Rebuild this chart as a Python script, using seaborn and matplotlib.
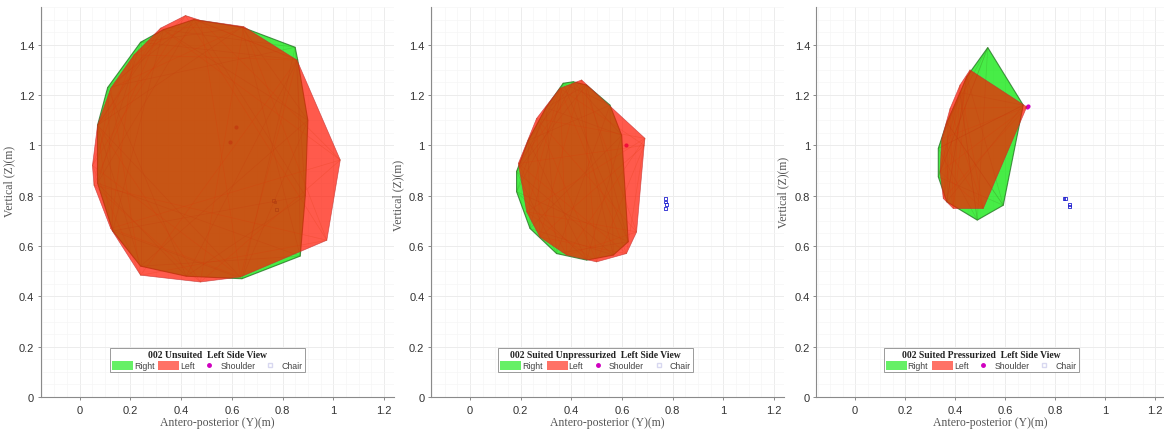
import numpy as np
import pandas as pd
import matplotlib
matplotlib.use("Agg")
import matplotlib.pyplot as plt
from matplotlib.patches import Patch
from matplotlib.lines import Line2D
from matplotlib.ticker import MultipleLocator
import seaborn as sns

# ---------------- data ----------------
titles = ["002 Unsuited  Left Side View",
          "002 Suited Unpressurized  Left Side View",
          "002 Suited Pressurized  Left Side View"]

# Panel 1 (Unsuited)
p1_left_y = [0.417, 0.476, 0.647, 0.857, 1.028, 0.975, 0.634, 0.476, 0.240, 0.122, 0.056, 0.050, 0.070, 0.122, 0.214, 0.319]
p1_left_z = [1.516, 1.497, 1.472, 1.339, 0.942, 0.623, 0.477, 0.457, 0.484, 0.670, 0.842, 0.920, 1.080, 1.227, 1.360, 1.466]
p1_right_y = [0.33, 0.45, 0.64, 0.85, 0.86, 0.90, 0.89, 0.87, 0.64, 0.42, 0.24, 0.13, 0.07, 0.07, 0.11, 0.24]
p1_right_z = [1.46, 1.50, 1.47, 1.39, 1.34, 1.10, 0.80, 0.56, 0.47, 0.48, 0.52, 0.66, 0.85, 1.08, 1.23, 1.41]
p1_shoulder_y = [0.594, 0.617]
p1_shoulder_z = [1.014, 1.074]
p1_chair_y = [0.765, 0.770, 0.776]
p1_chair_z = [0.782, 0.775, 0.746]

# Panel 2 (Suited Unpressurized)
p2_left_y = [0.441, 0.691, 0.688, 0.658, 0.618, 0.500, 0.382, 0.276, 0.224, 0.191, 0.263, 0.355]
p2_left_z = [1.260, 1.028, 1.000, 0.656, 0.570, 0.537, 0.564, 0.636, 0.736, 0.928, 1.107, 1.227]
p2_right_y = [0.368, 0.408, 0.460, 0.553, 0.599, 0.625, 0.566, 0.461, 0.342, 0.237, 0.184, 0.184, 0.230, 0.300]
p2_right_z = [1.247, 1.253, 1.240, 1.160, 1.040, 0.617, 0.564, 0.544, 0.570, 0.670, 0.816, 0.896, 1.020, 1.150]
p2_shoulder_y = [0.618]
p2_shoulder_z = [1.001]
p2_chair_y = [0.772, 0.772, 0.775, 0.772]
p2_chair_z = [0.790, 0.775, 0.765, 0.750]

# Panel 3 (Suited Pressurized)
p3_left_y = [0.460, 0.687, 0.513, 0.393, 0.353, 0.340, 0.347, 0.380, 0.420]
p3_left_z = [1.300, 1.153, 0.749, 0.749, 0.789, 0.895, 1.027, 1.146, 1.240]
p3_right_y = [0.531, 0.673, 0.593, 0.489, 0.367, 0.333, 0.333, 0.367, 0.420, 0.447]
p3_right_z = [1.389, 1.160, 0.762, 0.703, 0.776, 0.875, 0.988, 1.091, 1.210, 1.273]
p3_shoulder_y = [0.687, 0.690]
p3_shoulder_z = [1.153, 1.155]
p3_chair_y = [0.836, 0.843, 0.857, 0.857]
p3_chair_z = [0.789, 0.789, 0.765, 0.756]

panels = [
    (p1_left_y, p1_left_z, p1_right_y, p1_right_z, p1_shoulder_y, p1_shoulder_z, p1_chair_y, p1_chair_z),
    (p2_left_y, p2_left_z, p2_right_y, p2_right_z, p2_shoulder_y, p2_shoulder_z, p2_chair_y, p2_chair_z),
    (p3_left_y, p3_left_z, p3_right_y, p3_right_z, p3_shoulder_y, p3_shoulder_z, p3_chair_y, p3_chair_z),
]

# ---------------- style ----------------
sns.set_theme(style="whitegrid")
plt.rcParams["font.family"] = ["Liberation Sans", "DejaVu Sans"]

GREEN = "#00e600"
RED = "#ff1400"

fig = plt.figure(figsize=(11.64, 4.31), dpi=100)
fig.patch.set_facecolor("white")

# axes boxes [left, bottom, width, height] in figure fraction
boxes = [
    (40.5 / 1164, 33 / 431, (394 - 40.5) / 1164, 390 / 431),
    (430.7 / 1164, 33 / 431, (784 - 430.7) / 1164, 390 / 431),
    (816.3 / 1164, 33 / 431, (1164 - 816.3) / 1164, 390 / 431),
]
xlims = [(-0.155, 1.24), (-0.155, 1.24), (-0.155, 1.236)]
leg_x = [0.472, 0.467, 0.474]
ylab_pos = [(-0.072, 0.556), (-0.075, 0.52), (-0.077, 0.528)]


def texture(ax, ys, zs, color, alpha):
    n = len(ys)
    for i in range(n):
        for step in (3, 5):
            j = (i + step) % n
            ax.plot([ys[i], ys[j]], [zs[i], zs[j]], color=color, lw=0.5,
                    alpha=alpha, zorder=3.5)


for k, (ly, lz, ry, rz, sy, sz, cy, cz) in enumerate(panels):
    ax = fig.add_axes(boxes[k])
    ax.set_facecolor("white")

    # points under the translucent hulls
    sns.scatterplot(x=cy, y=cz, ax=ax, marker="s", s=4, facecolor="none",
                    edgecolor="#2020d0", linewidth=0.6, zorder=2, legend=False)
    sns.scatterplot(x=sy, y=sz, ax=ax, marker="o", s=9, color="#d000c0",
                    linewidth=0, zorder=2, legend=False)

    ax.fill(ry, rz, facecolor=GREEN, alpha=0.72, edgecolor="#1a6a1a",
            linewidth=0.8, zorder=3)
    texture(ax, ry, rz, "#3a8a20", 0.25)
    ax.fill(ly, lz, facecolor=RED, alpha=0.70, edgecolor="#c03030",
            linewidth=0.5, zorder=4)
    texture(ax, ly, lz, "#8a7a10", 0.22)

    ax.set_xlim(*xlims[k])
    ax.set_ylim(0, 1.55)
    ax.xaxis.set_major_locator(MultipleLocator(0.2))
    ax.yaxis.set_major_locator(MultipleLocator(0.2))
    ax.xaxis.set_minor_locator(MultipleLocator(0.05))
    ax.yaxis.set_minor_locator(MultipleLocator(0.05))
    ax.xaxis.set_major_formatter(plt.FuncFormatter(lambda v, p: f"{v:g}"))
    ax.yaxis.set_major_formatter(plt.FuncFormatter(lambda v, p: f"{v:g}"))
    ax.grid(True, which="major", color="#ececec", lw=0.7)
    ax.grid(True, which="minor", color="#f6f6f6", lw=0.5)
    ax.set_axisbelow(True)

    for s in ("top", "right"):
        ax.spines[s].set_visible(False)
    for s in ("left", "bottom"):
        ax.spines[s].set_color("#8a8a8a")
        ax.spines[s].set_linewidth(0.8)
    ax.tick_params(axis="both", which="major", direction="out", length=2.5,
                   width=0.7, color="#8a8a8a", labelsize=8,
                   labelcolor="#333333", pad=2, bottom=True, left=True)
    ax.tick_params(axis="x", which="major", pad=3)
    ax.tick_params(axis="both", which="minor", length=0)

    ax.set_xlabel("Antero-posterior (Y)(m)", family="Liberation Serif",
                  fontsize=8.5, color="#555555", labelpad=1)
    ax.set_ylabel("Vertical (Z)(m)", family="Liberation Serif",
                  fontsize=8.5, color="#555555")
    ax.yaxis.set_label_coords(*ylab_pos[k])

    handles = [
        Patch(facecolor=GREEN, alpha=0.6, edgecolor="none"),
        Patch(facecolor=RED, alpha=0.6, edgecolor="none"),
        Line2D([], [], marker="o", ms=2.5, color="#d000c0", lw=0),
        Line2D([], [], marker="s", ms=2.5, markerfacecolor="none",
               markeredgecolor="#d8d8f0", lw=0),
    ]
    leg = ax.legend(handles, ["Right", "Left", "Shoulder", "Chair"],
                    title=titles[k], ncol=4, loc="lower center",
                    bbox_to_anchor=(leg_x[k], 0.063), fontsize=6.3,
                    handlelength=2.4, handleheight=1.2, handletextpad=0.1,
                    columnspacing=0.45, borderpad=0.25, labelspacing=0.2,
                    frameon=True, fancybox=False, framealpha=1,
                    edgecolor="#9a9a9a", borderaxespad=0)
    leg.get_frame().set_linewidth(0.7)
    t = leg.get_title()
    t.set_fontfamily("Liberation Serif")
    t.set_fontweight("bold")
    t.set_fontsize(6.9)
    t.set_color("#222222")
    for txt in leg.get_texts():
        txt.set_color("#444444")
    leg.set_zorder(10)

fig.savefig("out.png", dpi=100, facecolor="white")
